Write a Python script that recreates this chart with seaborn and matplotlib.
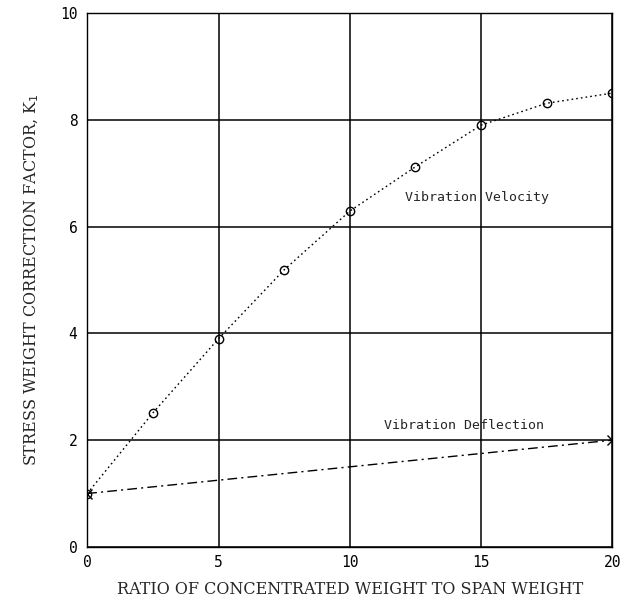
import numpy as np
import pandas as pd
import matplotlib
matplotlib.use("Agg")
import matplotlib.pyplot as plt
import seaborn as sns

# data
vel_x = [0, 2.5, 5, 7.5, 10, 12.5, 15, 17.5, 20]
vel_y = [1.0, 2.51, 3.9, 5.19, 6.29, 7.12, 7.9, 8.31, 8.5]
defl_x = [0, 20]
defl_y = [1.0, 2.0]

x_ticks = [0, 5, 10, 15, 20]
y_ticks = [0, 2, 4, 6, 8, 10]

df_vel = pd.DataFrame({"ratio": vel_x, "k1": vel_y})
df_defl = pd.DataFrame({"ratio": defl_x, "k1": defl_y})

sns.set_style("white")
plt.rcParams['font.family'] = ['DejaVu Sans Mono', 'DejaVu Sans']

fig = plt.figure(figsize=(6.23, 6.05), dpi=100)
ax = fig.add_axes([0.140, 0.096, 0.843, 0.8825])

sns.lineplot(x="ratio", y="k1", data=df_vel, ax=ax, color="black",
             linestyle=(0, (1.2, 2.2)), linewidth=1.0, marker="o",
             markersize=6, markerfacecolor="none", markeredgecolor="black",
             markeredgewidth=1.0)
sns.lineplot(x="ratio", y="k1", data=df_defl, ax=ax, color="black",
             linestyle=(0, (7, 3, 1.5, 3)), linewidth=1.0, marker="x",
             markersize=7, markeredgecolor="black", markeredgewidth=1.0)

ax.set_xlim(0, 20)
ax.set_ylim(0, 10)
ax.set_xticks(x_ticks)
ax.set_yticks(y_ticks)
ax.grid(True, color="black", linewidth=1.1)
ax.set_axisbelow(True)
for s in ax.spines.values():
    s.set_color("black")
    s.set_linewidth(1.0)
ax.tick_params(length=0, labelsize=10.5, colors="black")
ax.tick_params(axis="x", pad=6)
ax.tick_params(axis="y", pad=7)

ax.text(12.1, 6.54, "Vibration Velocity", fontsize=9.5, va="center", ha="left")
ax.text(11.3, 2.28, "Vibration Deflection", fontsize=9.5, va="center", ha="left")

ax.set_xlabel("RATIO OF CONCENTRATED WEIGHT TO SPAN WEIGHT",
              family="DejaVu Serif", fontsize=11.5, labelpad=8)
ax.set_ylabel("STRESS WEIGHT CORRECTION FACTOR, K$_1$",
              family="DejaVu Serif", fontsize=11.5, labelpad=14)

fig.savefig("out.png", dpi=100, facecolor="w")
